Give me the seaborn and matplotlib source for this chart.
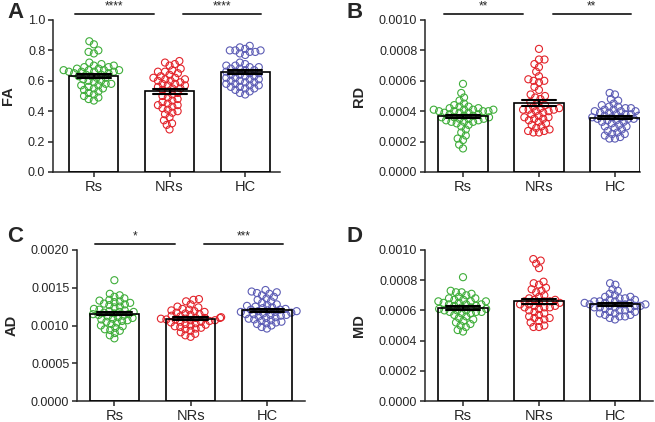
import numpy as np
import pandas as pd
import matplotlib
matplotlib.use("Agg")
import matplotlib.pyplot as plt
import seaborn as sns

groups = ["Rs", "NRs", "HC"]
colors = ["#3fae3a", "#e3242b", "#5d5db5"]

# FA
fa_rs = [0.86, 0.84, 0.80, 0.79, 0.78, 0.72, 0.71, 0.70, 0.70, 0.69, 0.68, 0.68, 0.67, 0.67, 0.67, 0.67,
         0.66, 0.66, 0.66, 0.65, 0.65, 0.64, 0.64, 0.63, 0.63, 0.62, 0.62, 0.61, 0.60, 0.60, 0.59, 0.58,
         0.58, 0.57, 0.57, 0.56, 0.55, 0.55, 0.54, 0.53, 0.52, 0.51, 0.50, 0.49, 0.48, 0.47, 0.69, 0.66]
fa_nrs = [0.73, 0.72, 0.71, 0.70, 0.68, 0.67, 0.66, 0.66, 0.65, 0.64, 0.63, 0.62, 0.61, 0.61, 0.60, 0.60,
          0.59, 0.58, 0.57, 0.57, 0.56, 0.55, 0.54, 0.53, 0.52, 0.51, 0.50, 0.49, 0.48, 0.47, 0.46, 0.45,
          0.44, 0.44, 0.43, 0.42, 0.41, 0.40, 0.39, 0.38, 0.36, 0.34, 0.32, 0.31, 0.28, 0.55, 0.58, 0.62]
fa_hc = [0.83, 0.82, 0.81, 0.80, 0.80, 0.80, 0.79, 0.79, 0.78, 0.77, 0.72, 0.71, 0.70, 0.70, 0.69, 0.69,
         0.68, 0.68, 0.67, 0.67, 0.66, 0.66, 0.65, 0.64, 0.64, 0.63, 0.63, 0.62, 0.62, 0.61, 0.61, 0.60,
         0.60, 0.59, 0.59, 0.58, 0.58, 0.57, 0.57, 0.56, 0.56, 0.55, 0.55, 0.54, 0.53, 0.52, 0.51, 0.65]

# RD (x 1e-4)
rd_rs = [5.8, 5.2, 4.9, 4.7, 4.5, 4.4, 4.3, 4.3, 4.2, 4.2, 4.1, 4.1, 4.1, 4.1, 4.0, 4.0, 4.0, 3.9, 3.9,
         3.8, 3.8, 3.7, 3.7, 3.6, 3.6, 3.5, 3.5, 3.5, 3.4, 3.4, 3.3, 3.3, 3.3, 3.2, 3.1, 3.0, 2.8, 2.6,
         2.4, 2.2, 2.1, 1.8, 1.55, 3.9, 3.6, 4.0]
rd_nrs = [8.1, 7.4, 7.4, 7.1, 6.9, 6.6, 6.3, 6.1, 6.0, 6.0, 5.9, 5.6, 5.4, 5.1, 5.0, 4.9, 4.8, 4.6, 4.5,
          4.4, 4.3, 4.2, 4.2, 4.1, 4.1, 4.1, 4.0, 4.0, 3.9, 3.8, 3.7, 3.6, 3.5, 3.5, 3.4, 3.3, 3.2, 3.1,
          3.0, 2.9, 2.8, 2.7, 2.7, 2.6, 2.6, 3.6]
rd_hc = [5.2, 5.1, 4.8, 4.7, 4.5, 4.4, 4.3, 4.3, 4.2, 4.2, 4.1, 4.1, 4.0, 4.0, 3.9, 3.9, 3.8, 3.8, 3.7,
         3.7, 3.6, 3.6, 3.5, 3.5, 3.5, 3.4, 3.4, 3.3, 3.3, 3.2, 3.1, 3.0, 3.0, 2.9, 2.8, 2.7, 2.6, 2.5,
         2.5, 2.4, 2.3, 2.2, 2.2, 3.6, 3.8, 4.0]

# AD (x 1e-3)
ad_rs = [1.60, 1.42, 1.40, 1.38, 1.36, 1.34, 1.33, 1.32, 1.31, 1.30, 1.29, 1.28, 1.27, 1.25, 1.24, 1.22,
         1.21, 1.20, 1.19, 1.18, 1.17, 1.16, 1.15, 1.14, 1.13, 1.12, 1.11, 1.10, 1.09, 1.08, 1.07, 1.06,
         1.05, 1.04, 1.02, 1.00, 0.99, 0.97, 0.95, 0.94, 0.93, 0.90, 0.87, 0.83, 1.15, 1.18]
ad_nrs = [1.35, 1.34, 1.32, 1.28, 1.25, 1.24, 1.22, 1.21, 1.20, 1.19, 1.18, 1.17, 1.16, 1.15, 1.14, 1.13,
          1.12, 1.11, 1.10, 1.10, 1.09, 1.09, 1.08, 1.08, 1.07, 1.07, 1.06, 1.05, 1.04, 1.03, 1.02, 1.01,
          1.00, 0.99, 0.98, 0.97, 0.96, 0.95, 0.93, 0.91, 0.89, 0.87, 0.85, 1.10, 1.05]
ad_hc = [1.47, 1.45, 1.44, 1.43, 1.42, 1.40, 1.38, 1.36, 1.34, 1.32, 1.30, 1.28, 1.27, 1.26, 1.25, 1.24,
         1.23, 1.22, 1.21, 1.20, 1.19, 1.18, 1.18, 1.17, 1.16, 1.15, 1.15, 1.14, 1.13, 1.12, 1.11, 1.10,
         1.09, 1.08, 1.07, 1.06, 1.05, 1.04, 1.03, 1.02, 1.00, 0.98, 0.96, 1.19, 1.21, 1.14]

# MD (x 1e-4)
md_rs = [8.2, 7.3, 7.2, 7.2, 7.1, 7.0, 6.9, 6.8, 6.8, 6.7, 6.7, 6.6, 6.6, 6.5, 6.5, 6.4, 6.4, 6.3, 6.3,
         6.2, 6.2, 6.1, 6.1, 6.0, 6.0, 5.9, 5.9, 5.8, 5.8, 5.7, 5.6, 5.5, 5.4, 5.3, 5.2, 5.1, 5.0, 4.9,
         4.7, 4.6, 6.6, 6.4, 6.0, 5.9]
md_nrs = [9.4, 9.3, 9.1, 8.8, 7.9, 7.8, 7.7, 7.5, 7.4, 7.3, 7.2, 7.0, 6.9, 6.8, 6.7, 6.7, 6.6, 6.6, 6.5,
          6.4, 6.4, 6.3, 6.3, 6.2, 6.2, 6.1, 6.0, 5.9, 5.8, 5.7, 5.6, 5.5, 5.4, 5.3, 5.2, 5.0, 4.9, 4.9,
          6.5, 6.6, 6.2, 5.5]
md_hc = [7.8, 7.7, 7.4, 7.3, 7.1, 7.0, 6.9, 6.9, 6.8, 6.8, 6.7, 6.7, 6.6, 6.6, 6.6, 6.5, 6.5, 6.5, 6.4,
         6.4, 6.4, 6.3, 6.3, 6.3, 6.2, 6.2, 6.1, 6.1, 6.0, 6.0, 5.9, 5.9, 5.8, 5.8, 5.7, 5.7, 5.6, 5.6,
         5.5, 5.4, 6.4, 6.2]

sig_fa = ["****", "****"]
sig_rd = ["**", "**"]
sig_ad = ["*", "***"]


def make_df(a, b, c, scale=1.0):
    rows = []
    for g, vals in zip(groups, [a, b, c]):
        for v in vals:
            rows.append((g, v * scale))
    return pd.DataFrame(rows, columns=["group", "value"])


sns.set_style("ticks")
plt.rcParams["font.family"] = ["Liberation Sans", "DejaVu Sans"]
plt.rcParams["axes.linewidth"] = 1.1

fig = plt.figure(figsize=(6.55, 4.22), dpi=100)
W, H = 655, 422


def px_axes(left, right, top, bottom):
    return fig.add_axes([left / W, 1 - bottom / H, (right - left) / W, (bottom - top) / H])


def panel(ax, df, ylabel, ymax, yticks, fmt, xlim, sig=None):
    ax.set_xlim(*xlim)
    ax.set_ylim(0, ymax)
    sns.barplot(data=df, x="group", y="value", order=groups, color="white", errorbar=None,
                width=0.65, linewidth=0, ax=ax, zorder=1)
    # swarm laid out with small markers so circles may overlap like in the original
    sns.swarmplot(data=df, x="group", y="value", order=groups, hue="group", palette=colors,
                  size=3.8, linewidth=0, ax=ax, legend=False, zorder=2)
    ax.set_xlim(*xlim)
    ax.set_ylim(0, ymax)
    fig.canvas.draw()
    for coll in list(ax.collections):
        offs = np.asarray(coll.get_offsets())
        fc = coll.get_facecolors()
        coll.remove()
        ax.scatter(offs[:, 0], offs[:, 1], s=26, facecolors="none", edgecolors=fc,
                   linewidths=0.8, zorder=2)
    sns.barplot(data=df, x="group", y="value", order=groups, color="black", fill=False,
                errorbar="se", capsize=0.45, width=0.65, linewidth=1.2,
                err_kws={"color": "black", "linewidth": 1.5, "zorder": 4}, ax=ax, zorder=3)
    ax.set_xlim(*xlim)
    ax.set_ylim(0, ymax)
    ax.set_yticks(yticks)
    ax.set_yticklabels([fmt.format(t) for t in yticks], fontsize=9)
    ax.tick_params(axis="x", labelsize=10.5, length=3.5, width=1.1, pad=2)
    ax.tick_params(axis="y", length=3.5, width=1.1, pad=2)
    ax.set_xlabel("")
    ax.set_ylabel(ylabel, fontsize=10.5, fontweight="bold", labelpad=9)
    sns.despine(ax=ax)
    if sig:
        yl = ymax * 1.04
        for (x0, x1), s in zip([(-0.25, 0.79), (1.18, 2.21)], sig):
            ax.plot([x0, x1], [yl, yl], color="#333333", lw=1.4, clip_on=False)
            ax.text((x0 + x1) / 2, yl + ymax * 0.01, s, ha="center", va="bottom",
                    fontsize=8.5, clip_on=False)


ax_a = px_axes(53, 280, 20, 172)
panel(ax_a, make_df(fa_rs, fa_nrs, fa_hc), "FA", 1.0,
      [0.0, 0.2, 0.4, 0.6, 0.8, 1.0], "{:.1f}", (-0.54, 2.46), sig_fa)

ax_b = px_axes(425, 640, 20, 172)
panel(ax_b, make_df(rd_rs, rd_nrs, rd_hc, 1e-4), "RD", 0.001,
      [0.0, 0.0002, 0.0004, 0.0006, 0.0008, 0.001], "{:.4f}", (-0.5, 2.33), sig_rd)

ax_c = px_axes(77, 305, 250, 401)
panel(ax_c, make_df(ad_rs, ad_nrs, ad_hc, 1e-3), "AD", 0.002,
      [0.0, 0.0005, 0.001, 0.0015, 0.002], "{:.4f}", (-0.49, 2.5), sig_ad)

ax_d = px_axes(425, 653, 250, 401)
panel(ax_d, make_df(md_rs, md_nrs, md_hc, 1e-4), "MD", 0.001,
      [0.0, 0.0002, 0.0004, 0.0006, 0.0008, 0.001], "{:.4f}", (-0.5, 2.5))

for lx, ly, s in [(7, 2, "A"), (347, 2, "B"), (7, 226, "C"), (347, 226, "D")]:
    fig.text(lx / W, 1 - ly / H, s, fontsize=16, fontweight="bold", va="top")

fig.savefig("out.png", dpi=100)
